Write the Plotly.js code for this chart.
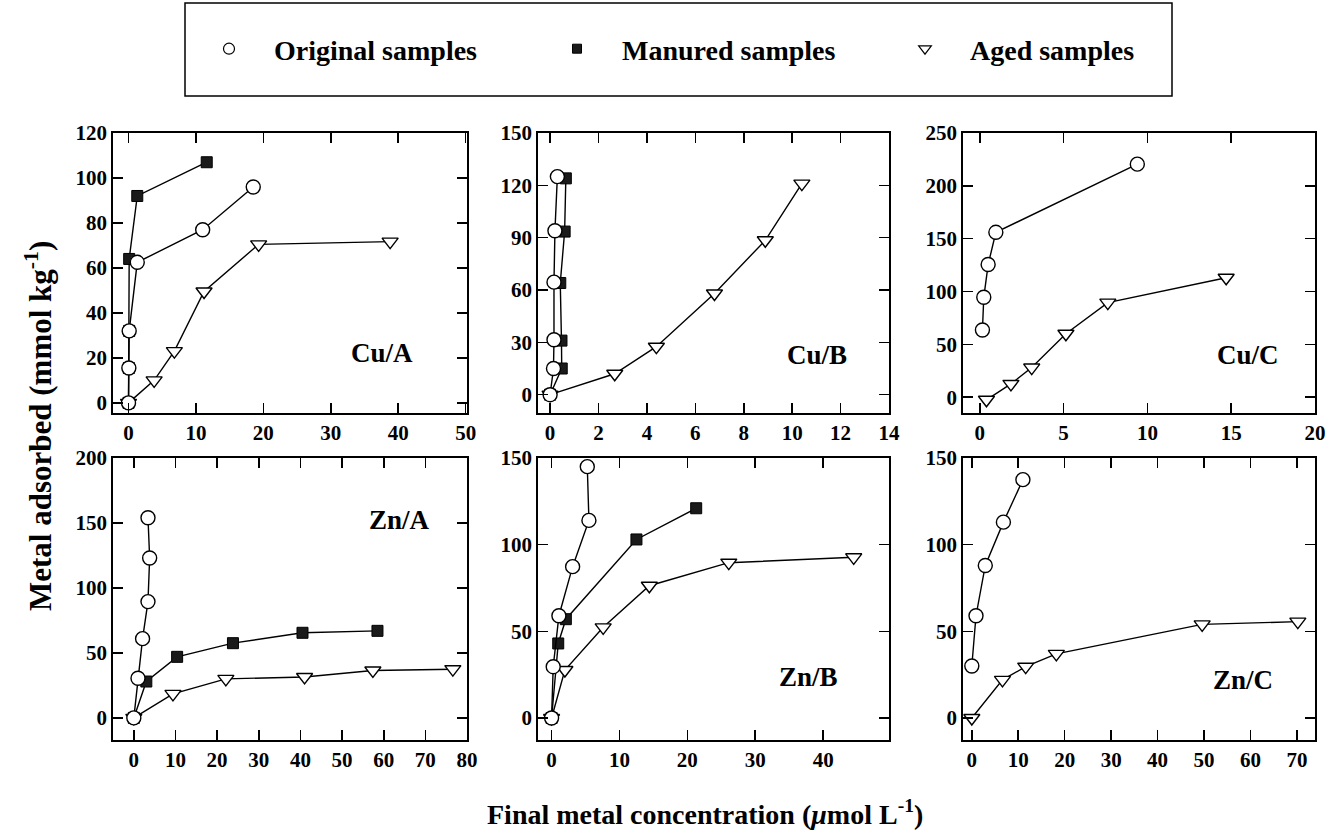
<!DOCTYPE html>
<html>
<head>
<meta charset="utf-8">
<script src="https://cdn.plot.ly/plotly-3.0.1.min.js"></script>
<style>html,body{margin:0;padding:0;background:#fff;} #chart{width:1329px;height:833px;}</style>
</head>
<body>
<div id="chart"></div>
<script>
// ---------------- data ----------------
const seriesNames = ["Original samples", "Manured samples", "Aged samples"];
const panelLabels = ["Cu/A", "Cu/B", "Cu/C", "Zn/A", "Zn/B", "Zn/C"];
const xTitle = "Final metal concentration (<i>μ</i>mol L<sup>-1</sup>)";
const yTitle = "Metal adsorbed (mmol kg<sup>-1</sup>)";

// Cu/A
const cuA_orig_x = [0, 0.05, 0.1, 1.3, 11, 18.5];
const cuA_orig_y = [0, 15.5, 32, 62.5, 77, 96];
const cuA_man_x = [0, 0.05, 0.1, 0.1, 1.3, 11.6];
const cuA_man_y = [0, 15.5, 32, 64, 92, 107];
const cuA_aged_x = [0, 3.8, 6.8, 11.2, 19.3, 38.8];
const cuA_aged_y = [0, 10, 23, 49.5, 70.5, 71.7];
// Cu/B
const cuB_orig_x = [0, 0.14, 0.16, 0.16, 0.2, 0.3];
const cuB_orig_y = [0, 15, 31.5, 64.5, 94, 125];
const cuB_man_x = [0, 0.48, 0.47, 0.42, 0.6, 0.65];
const cuB_man_y = [0, 15, 31, 64, 93.5, 124];
const cuB_aged_x = [0, 2.67, 4.39, 6.79, 8.89, 10.4];
const cuB_aged_y = [0, 12, 27.5, 58, 88.5, 121];
// Cu/C
const cuC_orig_x = [0.16, 0.24, 0.5, 0.96, 9.4];
const cuC_orig_y = [63.5, 94.5, 125.5, 156, 220.5];
const cuC_aged_x = [0.4, 1.86, 3.1, 5.14, 7.64, 14.7];
const cuC_aged_y = [-2.5, 12.5, 28, 60, 89.5, 113];
// Zn/A
const znA_orig_x = [0, 1.0, 2.1, 3.4, 3.8, 3.4];
const znA_orig_y = [0, 30.5, 61, 89.5, 123, 154];
const znA_man_x = [0, 3.0, 10.4, 23.8, 40.5, 58.5];
const znA_man_y = [0, 28, 47, 57.5, 65.5, 67];
const znA_aged_x = [0, 9.4, 22.1, 41, 57.4, 76.6];
const znA_aged_y = [0, 18.5, 30, 31.5, 36.5, 37.5];
// Zn/B
const znB_orig_x = [0, 0.24, 1.08, 3.1, 5.5, 5.26];
const znB_orig_y = [0, 29.6, 59, 87.3, 114, 145];
const znB_man_x = [0, 0.98, 2.1, 12.5, 21.3];
const znB_man_y = [0, 43, 57, 103, 121];
const znB_aged_x = [0, 1.96, 7.6, 14.4, 26.1, 44.5];
const znB_aged_y = [0, 27.7, 52.3, 76.3, 89.6, 92.7];
// Zn/C
const znC_orig_x = [0, 0.9, 2.9, 6.8, 11];
const znC_orig_y = [30, 59, 88, 113, 137.5];
const znC_aged_x = [0, 6.6, 11.6, 18.2, 49.6, 70.2];
const znC_aged_y = [0, 22, 29.6, 37, 54, 55.6];

// ---------------- layout helpers ----------------
const W = 1329, H = 833;
const FONT = "Liberation Serif, Times New Roman, serif";
const colsPx = [[113, 467], [538, 889], [963, 1315]];
const rowsPx = [[133, 413], [458, 740]];
const axisCfg = [
  {xr: [-2.3, 50.2], xd: 10, yr: [-4.5, 120], yd: 20},
  {xr: [-0.5, 14], xd: 2, yr: [-10.5, 150], yd: 30},
  {xr: [-1, 20], xd: 5, yr: [-15, 250], yd: 50},
  {xr: [-5, 80], xd: 10, yr: [-17, 200], yd: 50},
  {xr: [-2, 49.7], xd: 10, yr: [-12.7, 150], yd: 50},
  {xr: [-1.9, 73.9], xd: 10, yr: [-12.7, 150], yd: 50}
];
const labelPos = [[0.76, 0.214], [0.794, 0.207], [0.81, 0.207], [0.81, 0.78], [0.77, 0.223], [0.796, 0.213]];

const panelData = [
  [[cuA_orig_x, cuA_orig_y], [cuA_man_x, cuA_man_y], [cuA_aged_x, cuA_aged_y]],
  [[cuB_orig_x, cuB_orig_y], [cuB_man_x, cuB_man_y], [cuB_aged_x, cuB_aged_y]],
  [[cuC_orig_x, cuC_orig_y], null, [cuC_aged_x, cuC_aged_y]],
  [[znA_orig_x, znA_orig_y], [znA_man_x, znA_man_y], [znA_aged_x, znA_aged_y]],
  [[znB_orig_x, znB_orig_y], [znB_man_x, znB_man_y], [znB_aged_x, znB_aged_y]],
  [[znC_orig_x, znC_orig_y], null, [znC_aged_x, znC_aged_y]]
];

const markerStyles = [
  {symbol: "circle", size: 14, color: "#ffffff", line: {color: "#000", width: 1.4}},
  {symbol: "square", size: 11, color: "#1a1a1a", line: {color: "#000", width: 1}},
  {symbol: "triangle-down", size: 14, color: "#ffffff", line: {color: "#000", width: 1.4}}
];
const legendMarkers = [
  {symbol: "circle", size: 11, color: "#ffffff", line: {color: "#000", width: 1.2}},
  {symbol: "square", size: 9, color: "#1a1a1a", line: {color: "#000", width: 1}},
  {symbol: "triangle-down", size: 11, color: "#ffffff", line: {color: "#000", width: 1.2}}
];
const drawOrder = [2, 1, 0]; // aged first, original on top

const traces = [];
const layout = {
  width: W, height: H,
  margin: {l: 0, r: 0, t: 0, b: 0},
  paper_bgcolor: "#fff", plot_bgcolor: "rgba(0,0,0,0)",
  showlegend: true,
  font: {family: FONT, color: "#000"},
  annotations: [], shapes: []
};

panelData.forEach((series, p) => {
  const n = p + 1;
  const xa = "x" + (n === 1 ? "" : n), ya = "y" + (n === 1 ? "" : n);
  const col = colsPx[p % 3], row = rowsPx[Math.floor(p / 3)];
  const cfg = axisCfg[p];
  const common = {
    showline: true, linecolor: "#000", linewidth: 1.8, mirror: "ticks",
    ticks: "inside", ticklen: 10, tickwidth: 1.6, tickcolor: "#000",
    showgrid: false, zeroline: false,
    tickfont: {family: FONT, size: 21, weight: "bold", color: "#000"}
  };
  layout["xaxis" + (n === 1 ? "" : n)] = Object.assign({}, common, {
    domain: [col[0] / W, col[1] / W], range: cfg.xr, dtick: cfg.xd, tick0: 0,
    anchor: ya
  });
  layout["yaxis" + (n === 1 ? "" : n)] = Object.assign({}, common, {
    domain: [1 - row[1] / H, 1 - row[0] / H], range: cfg.yr, dtick: cfg.yd, tick0: 0,
    anchor: xa
  });
  drawOrder.forEach(k => {
    const s = series[k];
    if (!s) return;
    traces.push({
      type: "scatter", mode: "lines+markers", x: s[0], y: s[1],
      xaxis: xa, yaxis: ya, showlegend: false,
      line: {color: "#000", width: 1.4},
      marker: markerStyles[k], cliponaxis: false, name: seriesNames[k]
    });
  });
  layout.annotations.push({
    xref: xa + " domain", yref: ya + " domain",
    x: labelPos[p][0], y: labelPos[p][1], xanchor: "center", yanchor: "middle",
    text: panelLabels[p], showarrow: false,
    font: {family: FONT, size: 27, weight: "bold", color: "#000"}
  });
});

// legend entries (marker only)
seriesNames.forEach((nm, k) => {
  traces.push({
    type: "scatter", mode: "markers", x: [null], y: [null], name: nm,
    showlegend: true, marker: legendMarkers[k], xaxis: "x", yaxis: "y"
  });
});
layout.legend = {
  orientation: "h", x: 184 / W, xanchor: "left", y: 1 - 49 / H, yanchor: "middle",
  font: {family: FONT, size: 28, weight: "bold", color: "#000"},
  bgcolor: "rgba(0,0,0,0)", borderwidth: 0,
  itemwidth: 80, entrywidth: 253, entrywidthmode: "pixels",
  itemclick: false, itemdoubleclick: false
};
layout.shapes.push({
  type: "rect", xref: "paper", yref: "paper",
  x0: 185 / W, x1: 1172 / W, y0: 1 - 96 / H, y1: 1 - 3 / H,
  line: {color: "#000", width: 1.5}, fillcolor: "rgba(0,0,0,0)"
});

// axis titles
layout.annotations.push({
  xref: "paper", yref: "paper", x: 705 / W, y: 1 - 812 / H,
  xanchor: "center", yanchor: "middle", showarrow: false, text: xTitle,
  font: {family: FONT, size: 28, weight: "bold", color: "#000"}
});
layout.annotations.push({
  xref: "paper", yref: "paper", x: 38 / W, y: 1 - 426 / H,
  xanchor: "center", yanchor: "middle", showarrow: false, text: yTitle, textangle: -90,
  font: {family: FONT, size: 31, weight: "bold", color: "#000"}
});

Plotly.newPlot("chart", traces, layout, {staticPlot: true, displayModeBar: false});
</script>
</body>
</html>
